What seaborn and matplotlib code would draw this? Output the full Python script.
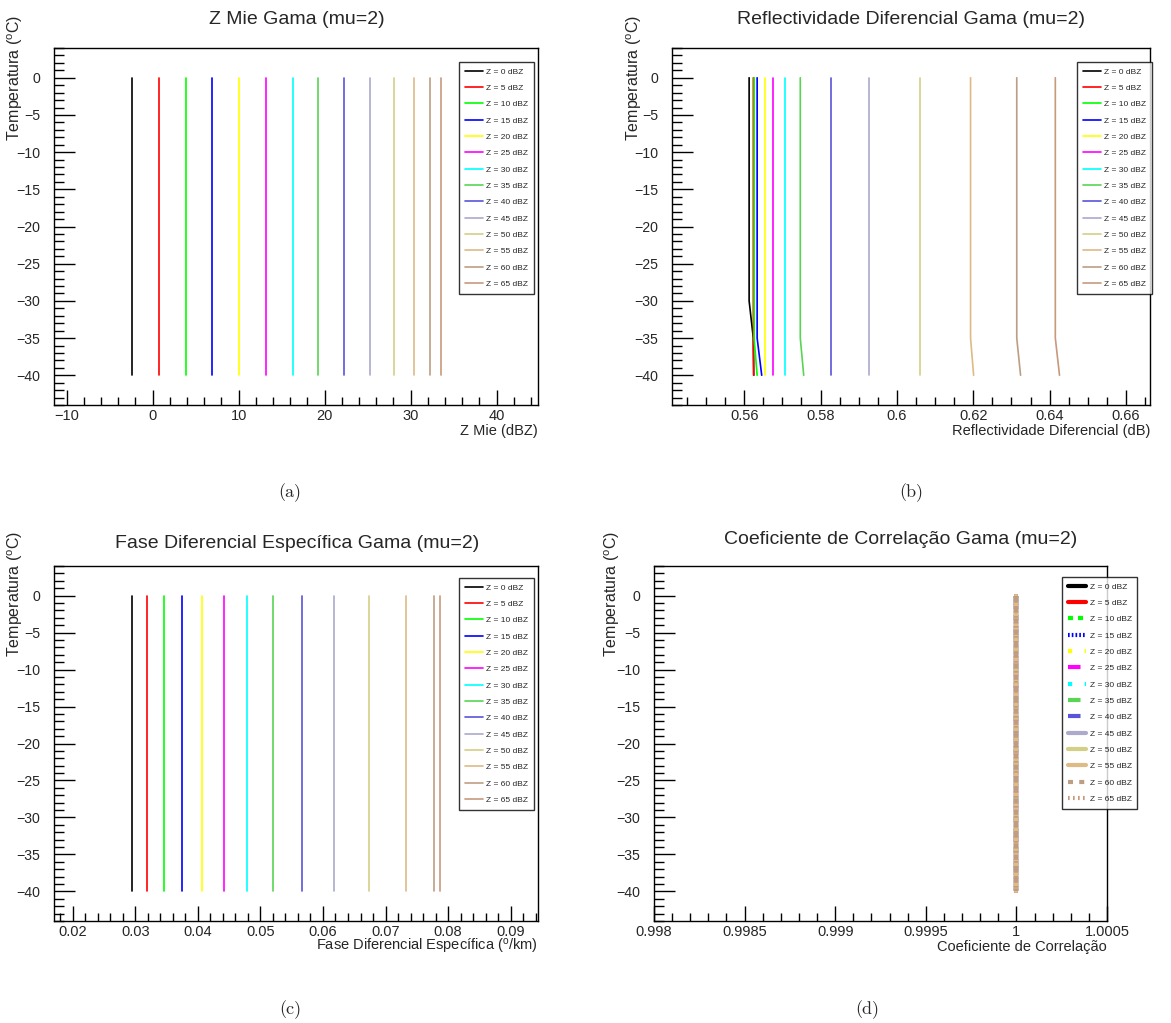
import matplotlib
matplotlib.use("Agg")
import matplotlib.pyplot as plt
import numpy as np
import pandas as pd
import seaborn as sns
from matplotlib.lines import Line2D
from matplotlib.ticker import MultipleLocator, FuncFormatter

sns.set_style("white")
plt.rcParams["font.family"] = ["Liberation Sans", "DejaVu Sans"]
plt.rcParams["mathtext.fontset"] = "custom"
plt.rcParams["mathtext.rm"] = "Liberation Sans"
plt.rcParams["mathtext.it"] = "Liberation Sans:italic"

# ---------------- data ----------------
temperatures = [0, -5, -10, -15, -20, -25, -30, -35, -40]
z_levels = [0, 5, 10, 15, 20, 25, 30, 35, 40, 45, 50, 55, 60, 65]
z_labels = [f"Z = {z} dBZ" for z in z_levels]

# Z Mie (dBZ), constant with temperature
zmie_values = [-2.44, 0.74, 3.83, 6.93, 10.07, 13.2, 16.27, 19.29, 22.31,
               25.25, 28.04, 30.44, 32.3, 33.58]

# Differential reflectivity (dB) profiles, one per Z, along temperatures
zdr_z0 = [0.5613, 0.5613, 0.5613, 0.5613, 0.5613, 0.5613, 0.5613, 0.5624, 0.5625]
zdr_z5 = [0.5624, 0.5624, 0.5624, 0.5624, 0.5624, 0.5624, 0.5624, 0.5624, 0.5625]
zdr_z10 = [0.5626, 0.5626, 0.5626, 0.5626, 0.5626, 0.5626, 0.5626, 0.5626, 0.5634]
zdr_z15 = [0.5634, 0.5634, 0.5634, 0.5634, 0.5634, 0.5634, 0.5634, 0.5634, 0.5646]
zdr_z20 = [0.5655, 0.5655, 0.5655, 0.5655, 0.5655, 0.5655, 0.5655, 0.5655, 0.5655]
zdr_z25 = [0.5675, 0.5675, 0.5675, 0.5675, 0.5675, 0.5675, 0.5675, 0.5675, 0.5675]
zdr_z30 = [0.5706, 0.5706, 0.5706, 0.5706, 0.5706, 0.5706, 0.5706, 0.5706, 0.5706]
zdr_z35 = [0.5747, 0.5747, 0.5747, 0.5747, 0.5747, 0.5747, 0.5747, 0.5747, 0.5756]
zdr_z40 = [0.5827, 0.5827, 0.5827, 0.5827, 0.5827, 0.5827, 0.5827, 0.5827, 0.5827]
zdr_z45 = [0.5928, 0.5928, 0.5928, 0.5928, 0.5928, 0.5928, 0.5928, 0.5928, 0.5928]
zdr_z50 = [0.6060, 0.6060, 0.6060, 0.6060, 0.6060, 0.6060, 0.6060, 0.6060, 0.6060]
zdr_z55 = [0.6193, 0.6193, 0.6193, 0.6193, 0.6193, 0.6193, 0.6193, 0.6193, 0.6201]
zdr_z60 = [0.6314, 0.6314, 0.6314, 0.6314, 0.6314, 0.6314, 0.6314, 0.6314, 0.6324]
zdr_z65 = [0.6415, 0.6415, 0.6415, 0.6415, 0.6415, 0.6415, 0.6415, 0.6415, 0.6426]
zdr_profiles = [zdr_z0, zdr_z5, zdr_z10, zdr_z15, zdr_z20, zdr_z25, zdr_z30,
                zdr_z35, zdr_z40, zdr_z45, zdr_z50, zdr_z55, zdr_z60, zdr_z65]

# Specific differential phase (deg/km), constant with temperature
kdp_values = [0.02941, 0.03191, 0.03463, 0.03755, 0.04069, 0.04415, 0.04787,
              0.05197, 0.05660, 0.06170, 0.06739, 0.07330, 0.07782, 0.07878]

# Correlation coefficient, constant with temperature
rhohv_values = [1.0, 1.0, 1.0, 1.0, 1.0, 1.0, 1.0, 1.0, 1.0, 1.0, 1.0, 1.0, 1.0, 1.0]

colors = ["#000000", "#ff0000", "#00ff00", "#0000ff", "#ffff00", "#ff00ff",
          "#00ffff", "#59d454", "#5954d9", "#abaacc", "#d4cf87", "#deba87",
          "#bd9e82", "#c7997d"]
palette = dict(zip(z_labels, colors))

# ROOT-like line styles for panel (d)
d_dashes = ["", "", (1.2, 1.2), (0.4, 0.5), (1.0, 3.0), (3.0, 1.5, 1.0, 1.5),
            (1.0, 3.0), (3.0, 2.0, 1.0, 2.0), (3.0, 2.0, 1.0, 2.0), "", "", "",
            (1.2, 1.5), (0.4, 0.8)]


def const_df(values):
    rows = []
    for lab, v in zip(z_labels, values):
        for t in temperatures:
            rows.append({"value": v, "temp": t, "Z": lab})
    return pd.DataFrame(rows)


def profile_df(profiles):
    rows = []
    for lab, prof in zip(z_labels, profiles):
        for t, v in zip(temperatures, prof):
            rows.append({"value": v, "temp": t, "Z": lab})
    return pd.DataFrame(rows)


W, H = 1171, 1023
fig = plt.figure(figsize=(W / 100, H / 100), dpi=100)


def px_axes(l, r, t, b):
    return fig.add_axes([l / W, 1 - b / H, (r - l) / W, (b - t) / H])


ax_a = px_axes(54, 538, 48, 405)
ax_b = px_axes(672, 1150, 48, 405)
ax_c = px_axes(54, 538, 566, 921)
ax_d = px_axes(654, 1107, 566, 921)

fmt = FuncFormatter(lambda v, p: ("%g" % v).replace("-", "\u2212"))


def style_axes(ax, xlim, xmaj, xmin, xlabel, ylab_x, ylab_y):
    ax.set_xlim(*xlim)
    ax.set_ylim(-44, 4)
    ax.xaxis.set_major_locator(MultipleLocator(xmaj))
    ax.xaxis.set_minor_locator(MultipleLocator(xmin))
    ax.yaxis.set_major_locator(MultipleLocator(5))
    ax.yaxis.set_minor_locator(MultipleLocator(1))
    ax.xaxis.set_major_formatter(fmt)
    ax.yaxis.set_major_formatter(fmt)
    ax.tick_params(axis="both", which="both", direction="in", top=False,
                   right=False, bottom=True, left=True, color="black",
                   width=1)
    ax.tick_params(axis="x", which="major", length=11, pad=3, labelsize=10.5)
    ax.tick_params(axis="x", which="minor", length=5.5)
    ax.tick_params(axis="y", which="major", length=15, pad=10, labelsize=10.2)
    ax.tick_params(axis="y", which="minor", length=7)
    for s in ax.spines.values():
        s.set_color("black")
        s.set_linewidth(1)
        s.set_visible(True)
    ax.set_xlabel(xlabel, fontsize=10.5, loc="right")
    ax.xaxis.set_label_coords(1.0, -0.073)
    ax.xaxis.label.set_va("center")
    ax.set_ylabel("Temperatura ($^{\\mathrm{o}}$C)", fontsize=11.5, loc="top")
    ax.yaxis.set_label_coords(ylab_x, ylab_y)
    ax.yaxis.label.set_va("center")
    ax.grid(False)


def add_legend(ax, x0, y0, lw=1.2, dashes=None):
    handles = []
    for i, (lab, c) in enumerate(zip(z_labels, colors)):
        if dashes is not None and dashes[i] != "":
            h = Line2D([], [], color=c, lw=lw, linestyle=(0, dashes[i]))
        else:
            h = Line2D([], [], color=c, lw=lw, linestyle="-")
        handles.append(h)
    leg = ax.legend(handles=handles, labels=z_labels, loc="upper left",
                    bbox_to_anchor=(x0 / W, 1 - y0 / H),
                    bbox_transform=fig.transFigure, fontsize=6,
                    frameon=True, fancybox=False, edgecolor="black",
                    borderpad=0.7, labelspacing=1.02, handlelength=2.2,
                    handletextpad=0.4, borderaxespad=0)
    leg.get_frame().set_linewidth(1)
    return leg


# (a)
sns.lineplot(data=const_df(zmie_values), x="value", y="temp", hue="Z",
             hue_order=z_labels, palette=palette, sort=False, estimator=None,
             orient="y", legend=False, ax=ax_a, lw=1.2)
style_axes(ax_a, (-11.46, 44.81), 10, 2, "Z Mie (dBZ)", -0.080, 1.092)
add_legend(ax_a, 459, 62)

# (b)
sns.lineplot(data=profile_df(zdr_profiles), x="value", y="temp", hue="Z",
             hue_order=z_labels, palette=palette, sort=False, estimator=None,
             orient="y", legend=False, ax=ax_b, lw=1.2)
style_axes(ax_b, (0.5411, 0.6663), 0.02, 0.005,
           "Reflectividade Diferencial (dB)", -0.080, 1.092)
add_legend(ax_b, 1077, 62)

# (c)
sns.lineplot(data=const_df(kdp_values), x="value", y="temp", hue="Z",
             hue_order=z_labels, palette=palette, sort=False, estimator=None,
             orient="y", legend=False, ax=ax_c, lw=1.2)
style_axes(ax_c, (0.01702, 0.09436), 0.01, 0.002,
           "Fase Diferencial Específica ($^{\\mathrm{o}}$/km)", -0.080, 1.10)
add_legend(ax_c, 459, 578)

# (d)
sns.lineplot(data=const_df(rhohv_values), x="value", y="temp", hue="Z",
             hue_order=z_labels, palette=palette, style="Z",
             style_order=z_labels, dashes=dict(zip(z_labels, d_dashes)),
             sort=False, estimator=None, orient="y", legend=False, ax=ax_d,
             lw=3)
style_axes(ax_d, (0.998, 1.0005), 0.0005, 0.0001,
           "Coeficiente de Correlação", -0.093, 1.10)
add_legend(ax_d, 1062, 577, lw=3, dashes=d_dashes)

# titles
titles = ["Z Mie Gama (mu=2)", "Reflectividade Diferencial Gama (mu=2)",
          "Fase Diferencial Específica Gama (mu=2)",
          "Coeficiente de Correlação Gama (mu=2)"]
title_pos = [(297, 19), (911, 19), (297, 543), (901, 540)]
for t, (x, y) in zip(titles, title_pos):
    fig.text(x / W, 1 - y / H, t, ha="center", va="center", fontsize=14)

# captions
captions = ["(a)", "(b)", "(c)", "(d)"]
cap_pos = [(290, 493), (911, 493), (290, 1010), (867, 1010)]
for t, (x, y) in zip(captions, cap_pos):
    fig.text(x / W, 1 - y / H, t, ha="center", va="center", fontsize=13,
             family="cmr10")

fig.savefig("out.png", dpi=100)
